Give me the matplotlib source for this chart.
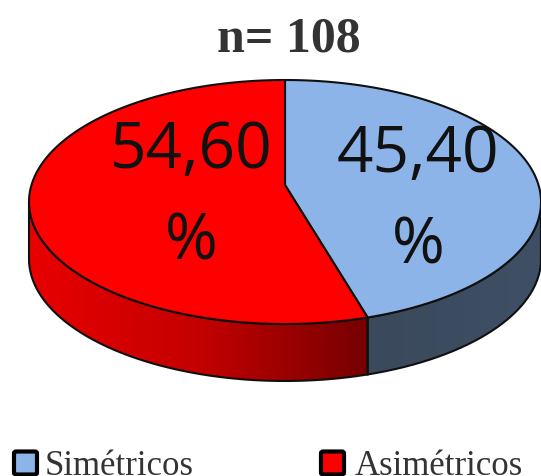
import numpy as np
import matplotlib
matplotlib.use("Agg")
import matplotlib.pyplot as plt
from matplotlib.patches import FancyBboxPatch, PathPatch
from matplotlib.path import Path
from matplotlib.colors import LinearSegmentedColormap

categories = ["Simétricos", "Asimétricos"]
values = [45.40, 54.60]
value_labels = ["45,40\n%", "54,60\n%"]
top_colors = ["#8db4e8", "#ff0000"]
title = "n= 108"

W, H = 541, 476
fig = plt.figure(figsize=(W / 100, H / 100), dpi=100, facecolor="white")

CX, CY, RX, RY, DEPTH = 285, 202, 256, 122, 57
APEX = 17 / RY
ax = fig.add_axes([0, 0, 1, 1])
ax.set_xlim(-CX / RX, (W - CX) / RX)
ax.set_ylim(-(H - CY) / RY, CY / RY)
ax.axis("off")
d = DEPTH / RY

# clockwise angle from the top, seen from the perspective apex
theta = 2 * np.pi * values[0] / sum(values)
dx, dy = np.sin(theta), np.cos(theta)
b = APEX * dy
s = -b + np.sqrt(b * b - (APEX ** 2 - 1))
split = np.arctan2(APEX + s * dy, s * dx)  # negative angle, lower right


def side_path(t0, t1):
    t = np.linspace(t0, t1, 300)
    x, y = np.cos(t), np.sin(t)
    return np.r_[np.c_[x, y], np.c_[x[::-1], y[::-1] - d], [[x[0], y[0]]]]


def gradient_side(t0, t1, colors):
    pts = side_path(t0, t1)
    xmin, xmax = pts[:, 0].min(), pts[:, 0].max()
    ymin, ymax = pts[:, 1].min(), pts[:, 1].max()
    cmap = LinearSegmentedColormap.from_list("g", colors)
    im = ax.imshow(np.linspace(0, 1, 256)[None, :], extent=[xmin, xmax, ymin, ymax],
                   cmap=cmap, aspect="auto", zorder=1)
    patch = PathPatch(Path(pts), facecolor="none", edgecolor="#101010", lw=1.5, zorder=2)
    ax.add_patch(patch)
    im.set_clip_path(patch)


def top_wedge(t0, t1, color):
    t = np.linspace(t0, t1, 400)
    pts = np.r_[[[0, APEX]], np.c_[np.cos(t), np.sin(t)], [[0, APEX]]]
    ax.add_patch(PathPatch(Path(pts), facecolor=color, edgecolor="#101010",
                           lw=1.5, joinstyle="round", zorder=3))


gradient_side(np.pi, 2 * np.pi + split, ["#e80000", "#c40000", "#760000"])
gradient_side(2 * np.pi + split, 2 * np.pi, ["#3a495b", "#3f5066"])
top_wedge(np.pi / 2, split, top_colors[0])
top_wedge(np.pi / 2, 2 * np.pi + split, top_colors[1])
ax.set_xlim(-CX / RX, (W - CX) / RX)
ax.set_ylim(-(H - CY) / RY, CY / RY)

label_font = ["Open Sans", "DejaVu Sans"]
positions = [(418, 155, 247), (191, 151, 243)]
for lab, (px, py1, py2) in zip(value_labels, positions):
    a, c = lab.split("\n")
    fig.text(px / W, 1 - py1 / H, a, ha="center", va="center", fontsize=46,
             family=label_font, color="#111111", zorder=5)
    fig.text(px / W, 1 - py2 / H, c, ha="center", va="center", fontsize=46,
             family=label_font, color="#111111", zorder=5)

fig.text(289 / W, 1 - 39 / H, title, ha="center", va="center", fontsize=36,
         fontweight="bold", family="Liberation Serif", color="#333333")

legend_x = [(14, 45), (321, 355)]
for cat, col, (bx, tx) in zip(categories, top_colors, legend_x):
    fig.add_artist(FancyBboxPatch((bx / W, 1 - 474.5 / H), 23 / W, 23 / H,
                                  boxstyle="round,pad=0,rounding_size=0.004",
                                  transform=fig.transFigure,
                                  facecolor=col, edgecolor="black", lw=3))
    fig.text(tx / W, 1 - 475 / H, cat, ha="left", va="baseline", fontsize=25,
             family="Liberation Serif", color="#333333")

fig.savefig("out.png", dpi=100)
